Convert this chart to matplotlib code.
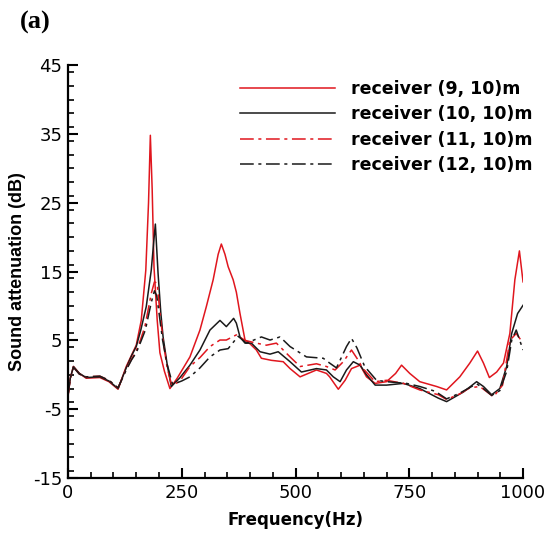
import matplotlib
matplotlib.use("Agg")
import matplotlib.pyplot as plt
from matplotlib.ticker import MultipleLocator

plt.rcParams["font.family"] = ["DejaVu Sans"]
plt.rcParams["axes.unicode_minus"] = False  # 원본처럼 하이픈 마이너스

# 수신기 (9, 10)m
f_r9 = [0, 5, 12, 25, 40, 70, 90, 110, 128, 140, 150, 161, 171, 177, 181, 185, 189, 196, 202, 212,
        224, 240, 268, 290, 304, 319, 330, 337, 345, 352, 363, 370, 378, 389, 400, 414, 425, 447, 473, 488,
        510, 546, 568, 575, 594, 609, 623, 642, 656, 675, 700, 720, 733, 751, 773, 810, 832, 861, 883, 900,
        913, 926, 942, 957, 971, 982, 992, 1000]
v_r9 = [-3.2, -0.5, 1.2, 0.2, -0.5, -0.4, -1.0, -2.1, 1.2, 2.9, 4.3, 7.9, 15.2, 25.0, 34.8, 27.0, 15.7, 8.0, 3.2, 0.5,
        -2.0, -0.5, 2.6, 6.5, 9.9, 13.8, 17.5, 19.0, 17.5, 15.7, 13.8, 12.0, 8.9, 5.05, 4.5, 3.6, 2.4, 2.1, 1.9, 0.9,
        -0.3, 0.7, 0.2, -0.3, -2.1, -0.8, 0.9, 1.4, -0.3, -1.25, -1.0, 0.2, 1.4, 0.2, -1.0, -1.7, -2.2, -0.3, 1.7, 3.45,
        1.7, -0.4, 0.4, 1.7, 6.0, 13.8, 18.0, 13.5]

# 수신기 (10, 10)m
f_r10 = [0, 5, 12, 25, 40, 70, 90, 110, 128, 140, 150, 160, 172, 183, 188, 192, 198, 204, 209, 218,
         227, 245, 268, 290, 312, 334, 348, 364, 370, 378, 389, 403, 422, 444, 462, 488, 513, 546, 568, 583,
         598, 612, 627, 642, 656, 675, 700, 737, 773, 814, 832, 869, 898, 913, 931, 949, 964, 975, 988, 1000]
v_r10 = [-3.0, -0.5, 1.2, 0.2, -0.4, -0.3, -0.9, -2.0, 1.0, 2.8, 4.1, 6.5, 9.9, 15.2, 19.0, 21.9, 14.7, 9.0, 5.5, 1.5,
         -1.7, -0.5, 1.4, 3.6, 6.5, 7.9, 7.0, 8.2, 7.5, 5.5, 4.6, 4.6, 3.35, 3.0, 3.35, 1.9, 0.4, 0.9, 0.7, -0.3,
         -1.0, 0.7, 1.9, 1.4, 0.0, -1.5, -1.5, -1.25, -2.0, -3.4, -3.9, -2.5, -1.0, -1.7, -2.9, -2.0, 1.2, 6.0, 8.9, 10.1]

# 수신기 (11, 10)m
f_r11 = [0, 5, 12, 25, 40, 70, 90, 110, 128, 140, 150, 160, 169, 183, 190, 196, 202, 210, 218, 228,
         245, 268, 290, 312, 334, 348, 370, 389, 414, 436, 458, 488, 510, 546, 568, 587, 605, 623, 638, 647,
         675, 700, 737, 773, 814, 832, 860, 883, 905, 935, 955, 971, 985, 1000]
v_r11 = [-3.0, -0.5, 1.1, 0.1, -0.3, -0.2, -0.8, -1.9, 0.8, 2.3, 3.5, 5.2, 7.0, 11.8, 13.5, 13.3, 9.0, 4.5, 1.0, -1.5,
         -1.0, 1.2, 2.5, 4.1, 5.05, 5.05, 5.8, 5.0, 4.6, 4.3, 4.6, 2.6, 1.2, 1.6, 1.2, 0.7, 1.9, 3.6, 2.1, 1.0,
         -1.0, -0.8, -1.25, -2.2, -2.9, -3.6, -2.8, -1.9, -1.7, -3.2, -1.5, 5.0, 6.0, 4.6]

# 수신기 (12, 10)m
f_r12 = [0, 5, 12, 25, 40, 70, 90, 110, 128, 140, 150, 160, 170, 183, 190, 195, 200, 208, 218, 230,
         250, 268, 290, 312, 334, 352, 374, 392, 425, 444, 466, 488, 524, 561, 575, 590, 612, 623, 635, 652,
         678, 700, 744, 773, 807, 832, 860, 898, 913, 931, 949, 964, 975, 985, 1000]
v_r12 = [-3.0, -0.5, 1.1, 0.1, -0.3, -0.2, -0.8, -1.9, 0.7, 2.2, 3.2, 4.8, 6.5, 10.5, 12.2, 11.5, 9.0, 5.0, 1.5, -1.4,
         -0.9, -0.3, 1.0, 2.6, 3.6, 3.8, 5.6, 4.6, 5.5, 5.05, 5.5, 4.1, 2.6, 2.4, 1.7, 1.0, 4.1, 5.3, 3.9, 1.2,
         -0.8, -1.0, -1.25, -1.7, -2.4, -3.5, -2.7, -1.3, -2.0, -3.0, -2.3, 0.5, 5.0, 6.5, 3.6]

labels = ["receiver (9, 10)m", "receiver (10, 10)m", "receiver (11, 10)m", "receiver (12, 10)m"]
y_ticks = [-15, -5, 5, 15, 25, 35, 45]

RED = "#e0161e"
BLK = "#1a1a1a"
DASHDOT = (0, (9, 3, 2, 3))

fig = plt.figure(figsize=(5.5, 5.38), dpi=100)
ax = fig.add_axes([0.1236, 0.1115, 0.8274, 0.7675])

ax.plot(f_r9, v_r9, color=RED, lw=1.1, label=labels[0])
ax.plot(f_r10, v_r10, color=BLK, lw=1.1, label=labels[1])
ax.plot(f_r11, v_r11, color=RED, lw=1.1, ls=DASHDOT, label=labels[2])
ax.plot(f_r12, v_r12, color=BLK, lw=1.1, ls=DASHDOT, label=labels[3])

ax.set_xlim(0, 1000)
ax.set_ylim(-15, 45)
ax.xaxis.set_major_locator(MultipleLocator(250))
ax.xaxis.set_minor_locator(MultipleLocator(50))
ax.yaxis.set_minor_locator(MultipleLocator(2))
ax.set_yticks(y_ticks)

for side in ("top", "right"):
    ax.spines[side].set_visible(False)
for side in ("left", "bottom"):
    ax.spines[side].set_linewidth(1.6)

ax.tick_params(which="major", direction="in", length=7.5, width=1.5, labelsize=13, pad=4)
ax.tick_params(which="minor", direction="in", length=4, width=1.2)

ax.set_xlabel("Frequency(Hz)", fontsize=12, fontweight="bold")
ax.set_ylabel("Sound attenuation (dB)", fontsize=13, fontweight="bold",
              family=["Liberation Sans", "DejaVu Sans"])
ax.xaxis.set_label_coords(0.5, -0.08)
ax.yaxis.set_label_coords(-0.092, 0.5)

ax.legend(loc="upper left", bbox_to_anchor=(240 / 550, 1 - 80 / 538), bbox_transform=fig.transFigure,
          frameon=False, borderaxespad=0, borderpad=0,
          handlelength=5.5, handletextpad=0.9, labelspacing=0.42,
          prop={"weight": "bold", "size": 12.5})

fig.text(0.036, 0.958, "(a)", fontsize=19, fontweight="bold",
         family=["Liberation Serif", "DejaVu Serif"], va="center", ha="left")

fig.savefig("out.png", dpi=100)
